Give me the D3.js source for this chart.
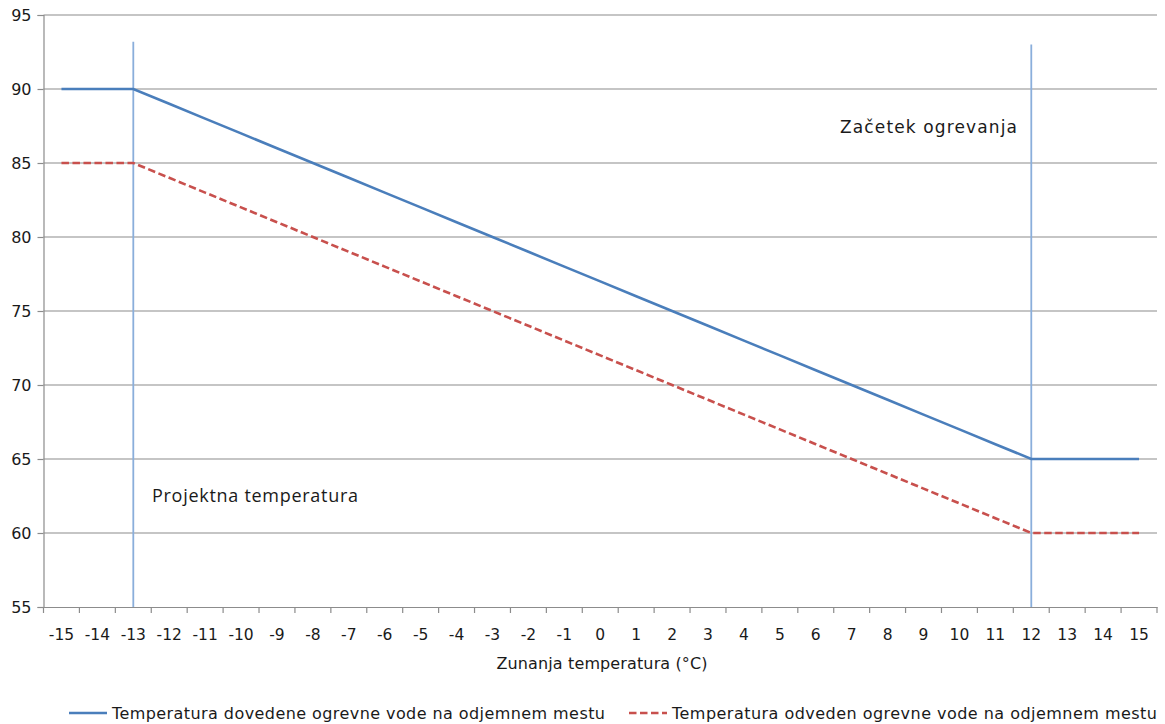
<!doctype html>
<html>
<head>
<meta charset="UTF-8">
<script src="https://cdnjs.cloudflare.com/ajax/libs/d3/7.8.5/d3.min.js"></script>
<style>
  body { margin: 0; background: #fff; }
  text { font-family: "DejaVu Sans", Verdana, sans-serif; fill: #1a1a1a; }
</style>
</head>
<body>
<svg id="chart" width="1165" height="724"></svg>
<script>
// outdoor temperature categories
var categories = d3.range(-15, 16);
// supply water temperature
var supply = [90, 90, 90, 89, 88, 87, 86, 85, 84, 83, 82, 81, 80, 79, 78, 77,
              76, 75, 74, 73, 72, 71, 70, 69, 68, 67, 66, 65, 65, 65, 65];
// return water temperature
var returnT = [85, 85, 85, 84, 83, 82, 81, 80, 79, 78, 77, 76, 75, 74, 73, 72,
               71, 70, 69, 68, 67, 66, 65, 64, 63, 62, 61, 60, 60, 60, 60];
var yTicks = [55, 60, 65, 70, 75, 80, 85, 90, 95];
// marker lines: [category, top value]
var markers = [[-13, 93.2], [12, 93]];

var seriesNames = ["Temperatura dovedene ogrevne vode na odjemnem mestu",
                   "Temperatura odveden ogrevne vode na odjemnem mestu"];

var plot = { left: 43.5, right: 1157, top: 15, bottom: 607 };
var svg = d3.select("#chart");

var x = d3.scaleBand().domain(categories).range([plot.left, plot.right]);
var y = d3.scaleLinear().domain([55, 95]).range([plot.bottom, plot.top]);
var cx = d => x(d) + x.bandwidth() / 2;

// gridlines
svg.append("g")
  .selectAll("line")
  .data(yTicks.slice(1))
  .enter().append("line")
    .attr("x1", plot.left).attr("x2", plot.right)
    .attr("y1", d => y(d)).attr("y2", d => y(d))
    .attr("stroke", "#8c8c8c")
    .attr("stroke-width", 1.2);

// y axis
var yAxis = svg.append("g")
  .attr("transform", "translate(" + plot.left + ",0)")
  .call(d3.axisLeft(y).tickValues(yTicks).tickSize(6).tickPadding(6));
yAxis.selectAll("line,path").attr("stroke", "#8c8c8c").attr("stroke-width", 1.2);
yAxis.selectAll("text").style("font-size", "16px").attr("fill", "#1a1a1a");

// x axis with ticks between categories
var xAxis = svg.append("g")
  .attr("transform", "translate(0," + plot.bottom + ")")
  .call(d3.axisBottom(x).tickSize(0).tickPadding(22));
xAxis.select("path").attr("stroke", "#8c8c8c").attr("stroke-width", 1.2);
xAxis.selectAll("text").style("font-size", "15.5px").attr("fill", "#1a1a1a");
svg.append("g")
  .selectAll("line")
  .data(categories.concat([null]))
  .enter().append("line")
    .attr("x1", (d, i) => plot.left + i * x.step())
    .attr("x2", (d, i) => plot.left + i * x.step())
    .attr("y1", plot.bottom).attr("y2", plot.bottom + 6)
    .attr("stroke", "#8c8c8c")
    .attr("stroke-width", 1.2);

// marker lines
svg.append("g")
  .selectAll("line")
  .data(markers)
  .enter().append("line")
    .attr("x1", d => cx(d[0])).attr("x2", d => cx(d[0]))
    .attr("y1", d => y(d[1])).attr("y2", plot.bottom)
    .attr("stroke", "#8aaedb")
    .attr("stroke-width", 1.8);

var line = d3.line().x((d, i) => cx(categories[i])).y(d => y(d));

svg.append("path")
  .datum(supply)
  .attr("d", line)
  .attr("fill", "none")
  .attr("stroke", "#4a7ebb")
  .attr("stroke-width", 2.6);

svg.append("path")
  .datum(returnT)
  .attr("d", line)
  .attr("fill", "none")
  .attr("stroke", "#c8504d")
  .attr("stroke-width", 2.6)
  .attr("stroke-dasharray", "7.5,3.5");

// annotations
svg.append("text")
  .attr("x", 152).attr("y", 502)
  .style("font-family", "'Open Sans', sans-serif")
  .style("font-size", "18px")
  .attr("textLength", 206)
  .text("Projektna temperatura");

svg.append("text")
  .attr("x", 840).attr("y", 133)
  .style("font-size", "17px")
  .attr("textLength", 177)
  .text("Začetek ogrevanja");

// axis title
svg.append("text")
  .attr("x", 602).attr("y", 669)
  .attr("text-anchor", "middle")
  .style("font-size", "16px")
  .attr("textLength", 211)
  .text("Zunanja temperatura (°C)");

// legend
var legend = [
  { name: seriesNames[0], color: "#4a7ebb", dash: null, x: 69, w: 493 },
  { name: seriesNames[1], color: "#c8504d", dash: "7.5,3.5", x: 629, w: 485 }
];
var lg = svg.append("g").selectAll("g").data(legend).enter().append("g")
  .attr("transform", d => "translate(" + d.x + ",713)");
lg.append("line")
  .attr("x1", 0).attr("x2", 38)
  .attr("stroke", d => d.color)
  .attr("stroke-width", 2.4)
  .attr("stroke-dasharray", d => d.dash);
lg.append("text")
  .attr("x", 43).attr("y", 6)
  .style("font-size", "16px")
  .attr("textLength", d => d.w)
  .text(d => d.name);
</script>
</body>
</html>
